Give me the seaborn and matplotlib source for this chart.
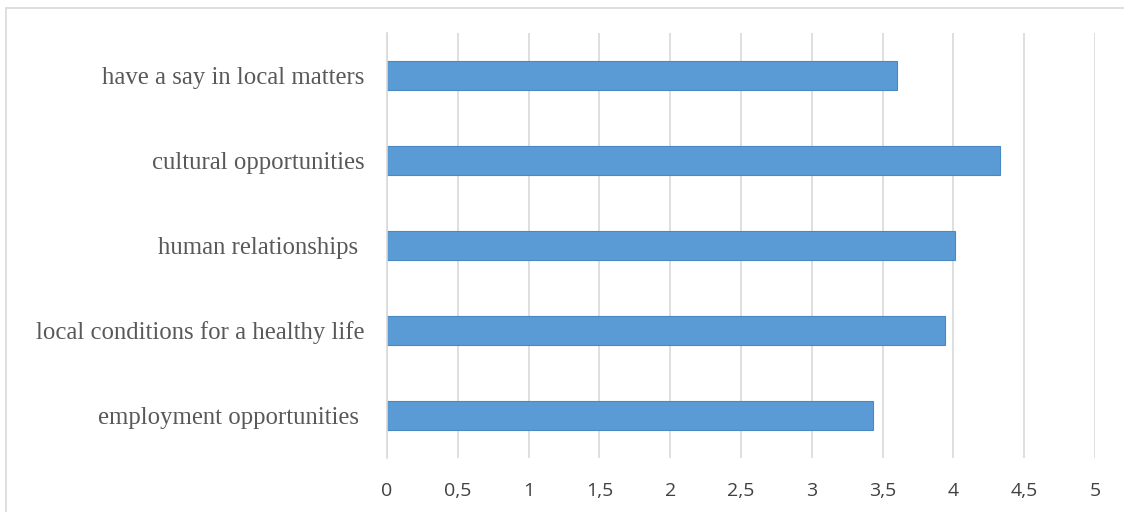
import matplotlib
matplotlib.use("Agg")
import matplotlib.pyplot as plt
from matplotlib.lines import Line2D
import seaborn as sns
import pandas as pd

categories = [
    "have a say in local matters",
    "cultural opportunities",
    "human relationships ",
    "local conditions for a healthy life",
    "employment opportunities ",
]
values = [3.60, 4.33, 4.01, 3.94, 3.43]
tick_values = [0, 0.5, 1, 1.5, 2, 2.5, 3, 3.5, 4, 4.5, 5]
tick_labels = ["0", "0,5", "1", "1,5", "2", "2,5", "3", "3,5", "4", "4,5", "5"]

df = pd.DataFrame({"category": categories, "value": values})

sns.set_theme(style="white")
plt.rcParams["font.family"] = ["DejaVu Sans"]

fig = plt.figure(figsize=(11.24, 5.12), dpi=100)
ax = fig.add_axes([387 / 1124, 1 - 458 / 512, (1095 - 387) / 1124, (458 - 33) / 512])

sns.barplot(data=df, y="category", x="value", orient="h", ax=ax,
            color="#5B9BD5", saturation=1, width=0.34,
            edgecolor="#4A88C4", linewidth=0.8, zorder=3)

ax.set_xlim(0, 5)
ax.set_ylim(4.5, -0.5)
ax.set_xticks(tick_values)
ax.set_xticklabels(tick_labels, fontfamily="Open Sans", fontsize=14, color="#404040")
ax.set_yticks(range(len(categories)))
ax.set_yticklabels(categories, fontfamily="Liberation Serif", fontsize=17.8, color="#595959")
ax.tick_params(axis="x", length=0, pad=17)
ax.tick_params(axis="y", length=0, pad=16)
ax.set_xlabel("")
ax.set_ylabel("")

ax.grid(axis="x", color="#D9D9D9", linewidth=1.2, zorder=0)
ax.grid(axis="y", visible=False)
for s in ["top", "right", "bottom"]:
    ax.spines[s].set_visible(False)
ax.spines["left"].set_color("#D9D9D9")
ax.spines["left"].set_linewidth(1.2)
ax.spines["left"].set_zorder(4)

# outer chart border (top and left visible)
fig.add_artist(Line2D([6 / 1124, 1], [1 - 8 / 512, 1 - 8 / 512], transform=fig.transFigure,
                      color="#D9D9D9", linewidth=1.2))
fig.add_artist(Line2D([6 / 1124, 6 / 1124], [0, 1 - 8 / 512], transform=fig.transFigure,
                      color="#D9D9D9", linewidth=1.2))

fig.savefig("out.png", dpi=100)
